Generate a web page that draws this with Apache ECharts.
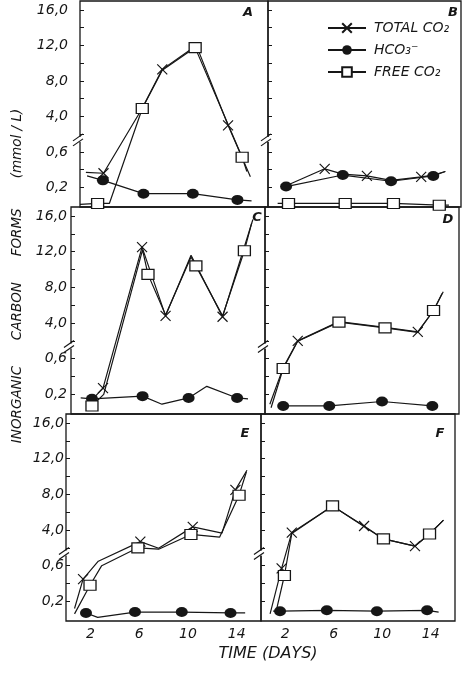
<!DOCTYPE html>
<html><head><meta charset="utf-8">
<script src="https://cdn.jsdelivr.net/npm/echarts@6.0.0/dist/echarts.min.js"></script>
<style>html,body{margin:0;padding:0;background:#fff}#c{width:475px;height:675px}</style>
</head><body><div id="c"></div>
<script>
// ---------- data ----------
const categories = ['A','B','C','D','E','F'];
const seriesNames = ['TOTAL CO₂','HCO₃⁻','FREE CO₂'];
const yTickValues = [0.2, 0.6, 4, 8, 12, 16];
const yTickLabels = ['0,2','0,6','4,0','8,0','12,0','16,0'];
const yMinorTicks = [0.2, 0.4, 0.6, 2, 4, 6, 8, 10, 12, 14, 16];
const xTickLabels = [2, 6, 10, 14];
// points: [day, mmol/L, marker shown (1) or line corner only (0)]
const A_total = [[0.5,0.37,0],[2.0,0.36,1],[5.2,4.7,0],[7.0,9.3,1],[9.9,12.0,0],[12.6,3.0,1],[14.5,0.32,0]];
const A_hco3  = [[0.6,0.33,0],[1.95,0.28,1],[5.4,0.13,1],[9.6,0.13,1],[13.4,0.06,1],[14.6,0.05,0]];
const A_free  = [[0.0,0.01,0],[1.5,0.02,1],[2.5,0.02,0],[5.3,4.9,1],[7.0,9.2,0],[9.8,11.75,1],[13.8,0.54,1],[14.2,0.38,0]];
const B_total = [[1.5,0.22,0],[4.7,0.41,1],[6.2,0.35,0],[8.2,0.33,1],[10.2,0.28,0],[12.7,0.32,1],[13.7,0.34,0],[14.7,0.38,0]];
const B_hco3  = [[1.5,0.21,1],[6.2,0.34,1],[10.2,0.27,1],[13.7,0.33,1],[14.7,0.38,0]];
const B_free  = [[0.8,0.02,0],[1.7,0.02,1],[6.4,0.02,1],[10.4,0.02,1],[14.2,0.0,1],[15.0,0.0,0]];
const C_total = [[1.8,0.15,0],[2.64,0.27,1],[5.86,12.5,1],[7.8,4.8,1],[9.9,11.6,0],[12.5,4.7,1],[15.0,15.6,0]];
const C_hco3  = [[0.8,0.16,0],[1.73,0.15,1],[5.9,0.18,1],[7.5,0.09,0],[9.7,0.16,1],[11.2,0.29,0],[13.7,0.16,1],[14.6,0.15,0]];
const C_free  = [[1.73,0.07,1],[2.7,0.2,0],[5.9,12.2,0],[6.35,9.45,1],[7.8,4.9,0],[9.9,11.4,0],[10.3,10.4,1],[12.5,4.8,0],[14.3,12.1,1],[14.9,15.2,0]];
const D_total = [[0.4,0.09,0],[1.5,0.5,0],[2.7,2.0,1],[6.1,4.15,0],[9.9,3.5,0],[12.6,3.0,1],[13.9,5.4,0],[14.7,7.5,0]];
const D_hco3  = [[1.5,0.07,1],[5.3,0.07,1],[9.65,0.12,1],[13.8,0.07,1]];
const D_free  = [[0.5,0.05,0],[1.5,0.49,1],[2.7,1.95,0],[6.1,4.1,1],[9.9,3.45,1],[12.6,2.95,0],[13.9,5.4,1],[14.6,7.3,0]];
const E_total = [[0.7,0.12,0],[1.4,0.45,1],[2.65,0.65,0],[6.1,2.7,1],[7.6,1.95,0],[10.4,4.35,1],[12.8,3.65,0],[13.9,8.5,1],[14.85,10.7,0]];
const E_hco3  = [[1.64,0.07,1],[2.6,0.02,0],[5.66,0.08,1],[9.5,0.08,1],[13.5,0.07,1],[14.7,0.07,0]];
const E_free  = [[0.7,0.06,0],[1.97,0.38,1],[2.93,0.6,0],[5.9,2.0,1],[7.6,1.85,0],[10.25,3.5,1],[12.6,3.2,0],[14.2,7.9,1],[14.8,10.5,0]];
const F_total = [[0.75,0.06,0],[1.7,0.57,1],[2.54,3.7,1],[5.9,6.7,0],[8.5,4.45,1],[10.1,3.0,0],[12.7,2.2,1],[13.9,3.55,0],[15.05,5.1,0]];
const F_hco3  = [[1.0,0.09,0],[1.57,0.09,1],[5.43,0.1,1],[9.56,0.09,1],[13.7,0.1,1],[14.65,0.08,0]];
const F_free  = [[1.2,0.06,0],[1.93,0.49,1],[2.54,3.6,0],[5.9,6.7,1],[8.5,4.4,0],[10.1,3.0,1],[12.7,2.2,0],[13.9,3.55,1],[15.05,5.1,0]];

const panelData = {
  A:[A_total,A_hco3,A_free], B:[B_total,B_hco3,B_free], C:[C_total,C_hco3,C_free],
  D:[D_total,D_hco3,D_free], E:[E_total,E_hco3,E_free], F:[F_total,F_hco3,F_free]
};

// ---------- layout / style ----------
const layout = [
  {left:80,  top:1,   width:188, height:206},
  {left:268, top:1,   width:193, height:206},
  {left:71,  top:207, width:194, height:207},
  {left:265, top:207, width:194, height:207},
  {left:66,  top:414, width:195, height:207},
  {left:261, top:414, width:194, height:207}
];
const labelMargin = [12, 0, 4, 0, 2, 0];
const letterPos = [[248,13],[453,13],[257,218],[448,220],[245,434],[440,434]];
const INK = '#161616';
const FONT = 'DejaVu Sans';
const XPATH = 'path://M0,0L10,10M10,0L0,10';

// broken axis: lower part 0..0.6 (0.2 per step), upper part 2..16 (2 per step)
function toD(v){ if (v <= 0.7) return v / 0.2; if (v >= 1.0) return 3 + v / 2; return 3.5; }
const BREAK_D = 3.68;
function labelFor(d){
  for (let k = 0; k < yTickValues.length; k++) if (Math.abs(toD(yTickValues[k]) - d) < 1e-6) return yTickLabels[k];
  return '';
}
function mk(arr){
  return arr.map(p => p[2] ? [p[0], toD(p[1])] : {value:[p[0], toD(p[1])], symbol:'none'});
}

const grids = [], xAxes = [], yAxes = [], series = [];
categories.forEach((c, i) => {
  grids.push(Object.assign({show:true, borderColor:INK, borderWidth:1.3, backgroundColor:'transparent'}, layout[i]));
  xAxes.push({type:'value', gridIndex:i, min:0, max:16,
    axisLine:{show:false}, splitLine:{show:false}, axisTick:{show:false},
    axisLabel:{show:i >= 4, customValues:xTickLabels, margin:6, fontStyle:'italic', fontSize:14, color:INK, fontFamily:FONT}});
  yAxes.push({type:'value', gridIndex:i, min:-0.1, max:11.5,
    axisLine:{show:false}, splitLine:{show:false},
    axisTick:{show:true, inside:true, length:4, customValues:yMinorTicks.map(toD), lineStyle:{color:INK, width:1}},
    axisLabel:{show:i % 2 === 0, customValues:yTickValues.map(toD), formatter:labelFor,
      margin:labelMargin[i], fontStyle:'italic', fontSize:14, color:INK, fontFamily:FONT}});
  const [tot, hco, fre] = panelData[c];
  series.push({type:'line', name:seriesNames[0], xAxisIndex:i, yAxisIndex:i, data:mk(tot),
    symbol:XPATH, symbolSize:10, showAllSymbol:true,
    itemStyle:{color:'transparent', borderColor:INK, borderWidth:1.2},
    lineStyle:{color:INK, width:1.2}, z:3});
  series.push({type:'line', name:seriesNames[1], xAxisIndex:i, yAxisIndex:i, data:mk(hco),
    symbol:'circle', symbolSize:[12,10], showAllSymbol:true,
    itemStyle:{color:INK, borderColor:INK, borderWidth:0},
    lineStyle:{color:INK, width:1.2}, z:3});
  series.push({type:'line', name:seriesNames[2], xAxisIndex:i, yAxisIndex:i, data:mk(fre),
    symbol:'rect', symbolSize:[12,10], showAllSymbol:true,
    itemStyle:{color:'#fff', borderColor:INK, borderWidth:1.2},
    lineStyle:{color:INK, width:1.2}, z:4});
  series.push({type:'custom', xAxisIndex:i, yAxisIndex:i, data:[[0, BREAK_D]], clip:false, silent:true, z:6,
    renderItem:(params, api) => {
      const p = api.coord([api.value(0), api.value(1)]);
      return {type:'group', children:[
        {type:'rect', shape:{x:p[0]-2, y:p[1]-3, width:4, height:5}, style:{fill:'#fff'}},
        {type:'line', shape:{x1:p[0]-7, y1:p[1]+1, x2:p[0]+3, y2:p[1]-6}, style:{stroke:INK, lineWidth:1.2}},
        {type:'line', shape:{x1:p[0]-7, y1:p[1]+6, x2:p[0]+3, y2:p[1]-1}, style:{stroke:INK, lineWidth:1.2}}
      ]};
    }});
});

const graphics = categories.map((c, i) => ({type:'text', x:letterPos[i][0], y:letterPos[i][1], z:10,
  style:{text:c, font:'italic bold 13px ' + FONT, fill:INK, align:'center', verticalAlign:'middle'}}));
graphics.push({type:'text', x:17, y:276, rotation:Math.PI/2, z:10,
  style:{text:'INORGANIC      CARBON      FORMS       (mmol / L)', font:'italic 13.5px ' + FONT, fill:INK, align:'center', verticalAlign:'middle'}});
graphics.push({type:'text', x:268, y:654, z:10,
  style:{text:'TIME (DAYS)', font:'italic 16px ' + FONT, fill:INK, align:'center', verticalAlign:'middle'}});

const chart = echarts.init(document.getElementById('c'));
chart.setOption({
  animation:false,
  backgroundColor:'#fff',
  legend:{data:seriesNames, orient:'vertical', left:322, top:16, itemWidth:38, itemHeight:12, itemGap:8,
    selectedMode:false, textStyle:{fontFamily:FONT, fontStyle:'italic', fontSize:14, color:INK, padding:[0,0,0,3]}},
  grid:grids, xAxis:xAxes, yAxis:yAxes, series:series, graphic:graphics
});
</script></body></html>
